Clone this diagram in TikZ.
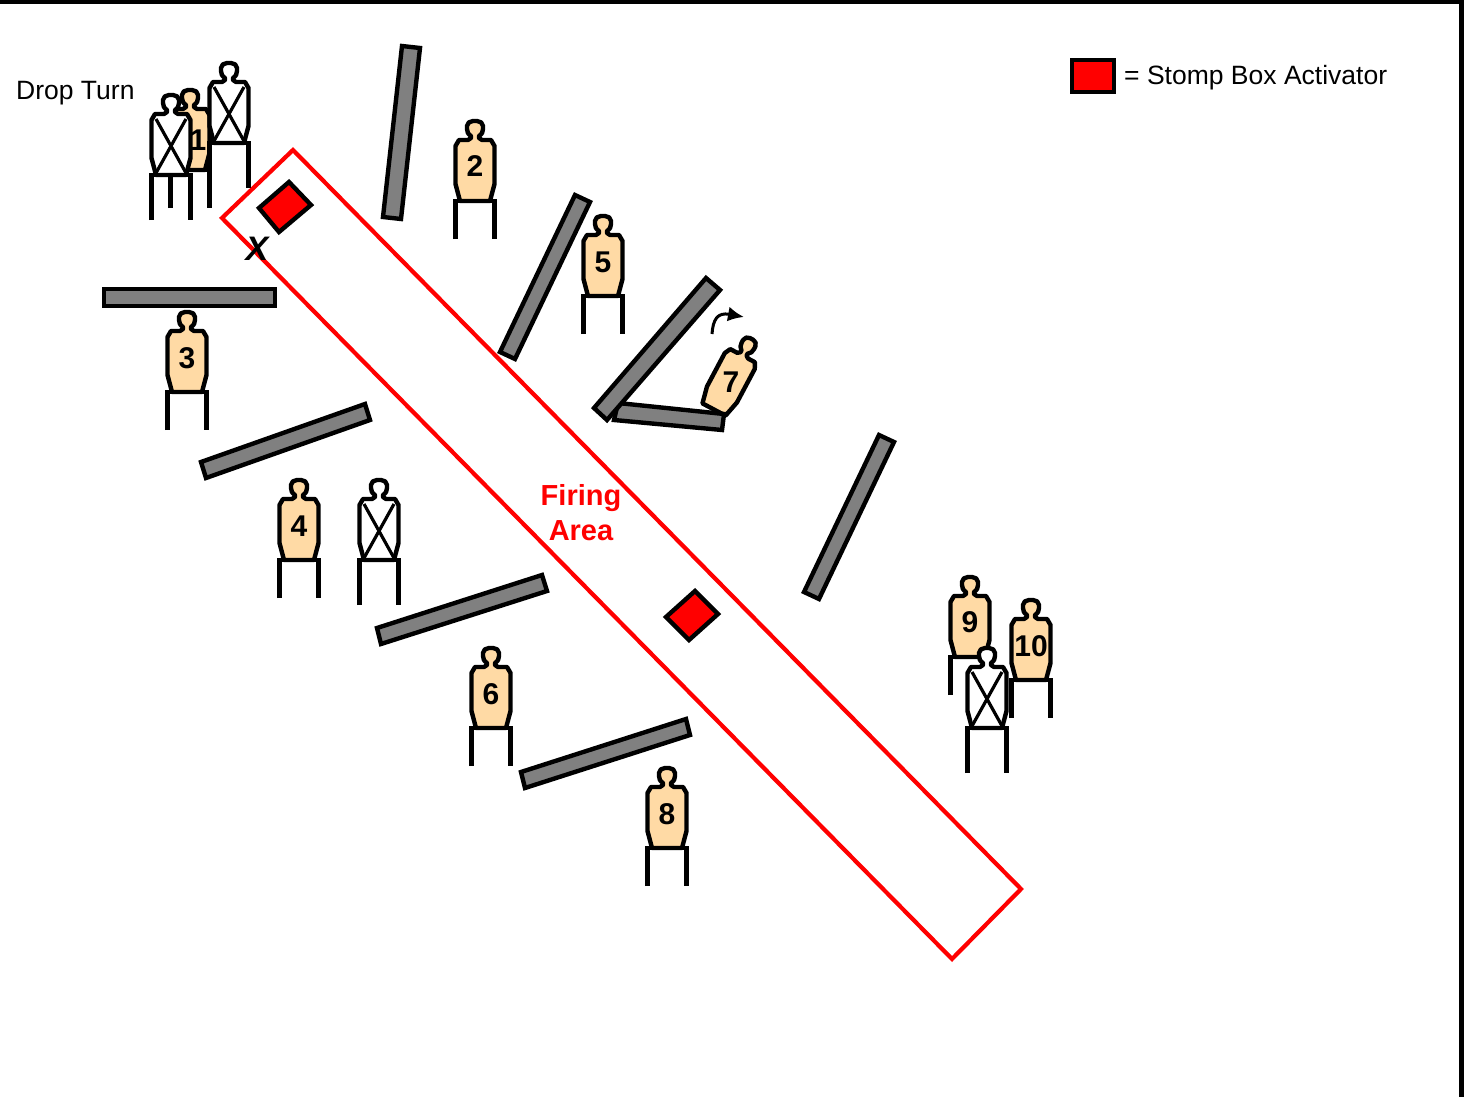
\documentclass[tikz,border=0pt]{standalone}
\usepackage{fontspec}
\setmainfont{Liberation Sans}
\usetikzlibrary{arrows.meta}

\definecolor{skin}{RGB}{255,218,165}
\definecolor{barfill}{RGB}{128,128,128}
\tikzset{
    outline/.style={draw=black, line width=4.4pt, line join=miter},
    barbox/.style={outline, fill=barfill},
    stompbox/.style={outline, fill=red},
    numlabel/.style={inner sep=0pt, font=\fontsize{30}{30}\selectfont\bfseries},
    firelabel/.style={inner sep=0pt, text=red, font=\fontsize{29}{29}\selectfont\bfseries},
    textlabel/.style={inner sep=0pt, anchor=west, font=\fontsize{26.5}{27}\selectfont},
    body/.pic={
      \path[outline, line join=round, pic actions] (-4,16) .. controls (-7,14) and (-8,12) .. (-8,9) -- (-8,6)
        .. controls (-8,3) and (-5,1) .. (-2,1) -- (2,1) .. controls (5,1) and (8,3) .. (8,6)
        -- (8,9) .. controls (8,12) and (7,14) .. (4,16) -- (4,18) -- (7,20) -- (16,20) -- (19.5,26)
        -- (19.5,64) -- (15,81) -- (-15,81) -- (-19.5,64) -- (-19.5,26) -- (-16,20) -- (-7,20) -- (-4,18) -- cycle;
    },
    target/.pic={
      \pic[fill=skin] {body};
      \draw[line width=4.4pt, line join=miter] (-19.5,119) -- (-19.5,81) -- (19.5,81) -- (19.5,119);
    },
    noshoot/.pic={
      \pic[fill=white] {body};
      \draw[line width=4.4pt, line join=miter] (-19.5,126) -- (-19.5,81) -- (19.5,81) -- (19.5,126);
      \draw[line width=3.2pt] (-15,25) -- (15,79) (15,25) -- (-15,79);
    },
}

\begin{document}
\begin{tikzpicture}[x=1pt,y=-1pt]
    \useasboundingbox (0,0) rectangle (1473,1097);
    \fill[black] (0,0) rectangle (1464,4);
    \fill[black] (1459,0) rectangle (1464,1097);

    % firing area
    \draw[draw=red, line width=4.2pt, line join=miter] (293,150) -- (1021,889) -- (952,959) -- (222,218) -- cycle;

    % targets
    \foreach \tx/\ty/\tname in {190/89/one, 475/120/two, 187/311/three, 299/479/four, 603/215/five,
                                491/647/six, 667/767/eight, 970/576/nine, 1031/599/ten}
      \pic (\tname) at (\tx,\ty) {target};
    \pic[fill=skin, rotate=-28, xscale=.87] (seven) at (752,338) {body};

    % no shoots
    \foreach \tx/\ty/\tname in {229/62/nsa, 171/94/nsb, 379/479/nsc, 987/647/nsd}
      \pic (\tname) at (\tx,\ty) {noshoot};

    % barricades
    \draw[barbox] (402,46) -- (420,48) -- (401,219) -- (383,217) -- cycle;
    \draw[barbox] (575,195) -- (590,202) -- (515,359) -- (500,352) -- cycle;
    \draw[barbox] (618,403) -- (724,414) -- (722,430) -- (614,420) -- cycle;
    \draw[barbox] (706,278) -- (720,290) -- (607,420) -- (594,408) -- cycle;
    \draw[barbox] (879,435) -- (894,442) -- (819,599) -- (804,592) -- cycle;
    \draw[barbox] (104,289) -- (275,289) -- (275,306) -- (104,306) -- cycle;
    \draw[barbox] (365,404) -- (370,420) -- (206,478) -- (201,462) -- cycle;
    \draw[barbox] (542,575) -- (547,591) -- (381,644) -- (377,628) -- cycle;
    \draw[barbox] (686,719) -- (690,735) -- (525,788) -- (521,772) -- cycle;

    % stomp boxes
    \draw[stompbox] (289,182) -- (311,205) -- (279,232) -- (259,208) -- cycle;
    \draw[stompbox] (695,591) -- (718,614) -- (689,640) -- (666,617) -- cycle;
    \draw[stompbox] (1072,60) rectangle (1114,92);

    % turn arrow
    \coordinate (turnstart) at (712,334);
    \coordinate (turnend) at (744,317);
    \draw[line width=3pt, -{Latex[length=16pt,width=15pt]}] (turnstart) .. controls (713,320) and (717,312) .. (turnend);

    % labels
    \foreach \lx/\ly/\ltext/\lname in {198/140/1/labone, 475/166/2/labtwo, 187/358/3/labthree, 299/526/4/labfour,
                                       603/262/5/labfive, 491/694/6/labsix, 731/382/7/labseven, 667/814/8/labeight,
                                       970/622/9/labnine, 1031/646/10/labten}
      \node[numlabel] (\lname) at (\lx,\ly) {\ltext};
    \node[firelabel] (firing) at (581,498) {Firing};
    \node[firelabel] (area) at (581,531) {Area};
    \node[inner sep=0pt, font=\fontsize{34}{34}\selectfont\bfseries\itshape] (start) at (257,249) {X};
    \node[textlabel] (drop) at (16,93) {Drop Turn};
    \node[textlabel] (legend) at (1124,78) {= Stomp Box Activator};
\end{tikzpicture}
\end{document}
